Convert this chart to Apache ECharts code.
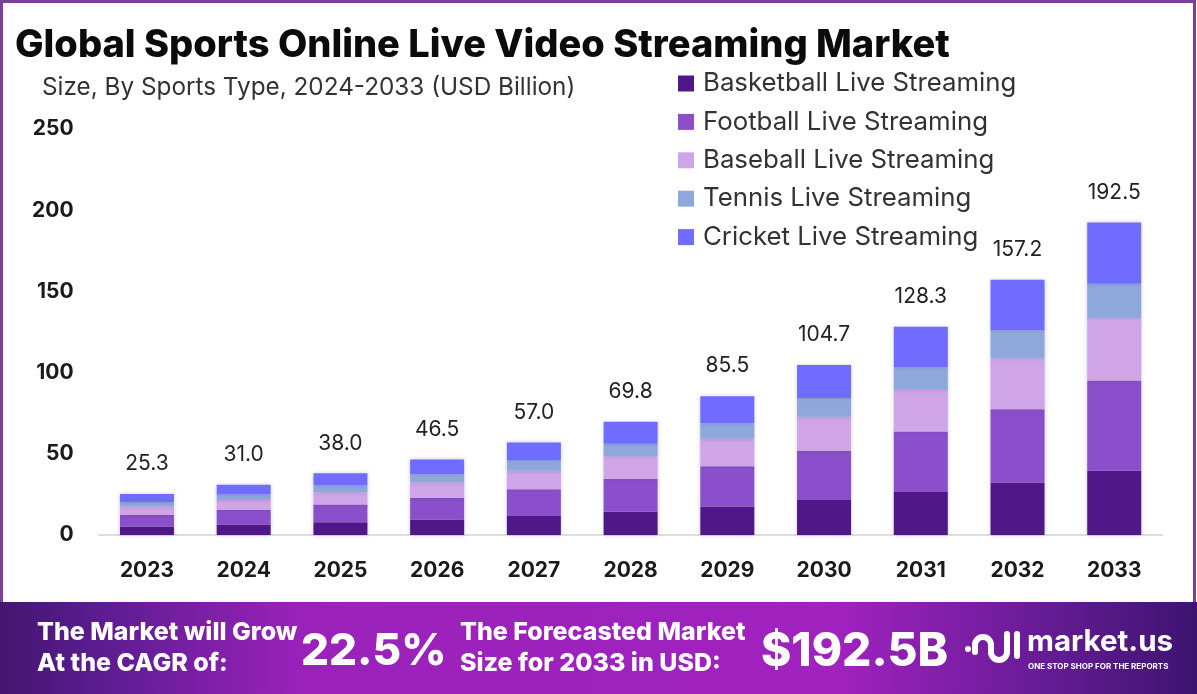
<!DOCTYPE html>
<html lang="en">
  <head>
    <meta charset="utf-8">
    <title>Global Sports Online Live Video Streaming Market</title>
    <style>
      html, body { margin: 0; padding: 0; background: #fff; }
      #chart { width: 1197px; height: 694px; }
    </style>
  </head>
  <body>
    <div id="chart"></div>

    <script src="https://cdn.jsdelivr.net/npm/echarts@6/dist/echarts.min.js"></script>
    <script>
      // data
      var years = ['2023', '2024', '2025', '2026', '2027', '2028', '2029', '2030', '2031', '2032', '2033'];
      var basketball = [5.2, 6.4, 7.8, 9.5, 11.7, 14.3, 17.5, 21.5, 26.5, 32.4, 39.5];
      var football = [7.3, 9.0, 11.0, 13.5, 16.5, 20.2, 24.8, 30.4, 37.2, 45.0, 55.6];
      var baseball = [5.0, 6.2, 7.6, 9.3, 11.4, 14.0, 17.1, 20.9, 25.7, 31.5, 38.4];
      var tennis = [2.8, 3.4, 4.2, 5.1, 6.3, 7.7, 9.4, 11.5, 14.0, 17.2, 21.2];
      var cricket = [5.0, 6.0, 7.4, 9.1, 11.1, 13.6, 16.7, 20.4, 24.9, 31.1, 37.8];
      var totals = [25.3, 31.0, 38.0, 46.5, 57.0, 69.8, 85.5, 104.7, 128.3, 157.2, 192.5];
      var seriesNames = ['Basketball Live Streaming', 'Football Live Streaming', 'Baseball Live Streaming', 'Tennis Live Streaming', 'Cricket Live Streaming'];
      var seriesColors = ['#4f1787', '#8b4fcb', '#d0a5e8', '#8ea8dc', '#6f6cff'];

      var font = 'Inter';
      var myChart = echarts.init(document.getElementById('chart'));

      function barSeries(name, color, values) {
          return {
              name: name,
              type: 'bar',
              stack: 'total',
              barWidth: 54,
              data: values,
              itemStyle: { color: color, shadowColor: 'rgba(70,50,120,0.25)', shadowBlur: 4 }
          };
      }

      // footer text helper
      function footerText(x, y, text, size, weight, shadow) {
          return {
              type: 'text',
              x: x,
              y: y,
              z: 20,
              style: {
                  text: text,
                  fill: '#fff',
                  font: weight + ' ' + size + 'px ' + font,
                  textVerticalAlign: 'middle',
                  shadowColor: shadow ? 'rgba(40,0,70,0.75)' : 'transparent',
                  shadowBlur: shadow ? 5 : 0,
                  shadowOffsetX: shadow ? 2 : 0,
                  shadowOffsetY: shadow ? 2 : 0
              }
          };
      }

      // logo strokes
      var logoStyle = { fill: 'none', stroke: '#fff', lineWidth: 6, lineCap: 'round' };
      function logoArc(cx, cy, r, start, end) {
          return { type: 'arc', z: 20, shape: { cx: cx, cy: cy, r: r, startAngle: start, endAngle: end }, style: logoStyle };
      }
      function logoLine(x1, y1, x2, y2) {
          return { type: 'line', z: 20, shape: { x1: x1, y1: y1, x2: x2, y2: y2 }, style: logoStyle };
      }

      myChart.setOption({
          backgroundColor: '#fff',
          animation: false,
          title: [{
              text: 'Global Sports Online Live Video Streaming Market',
              left: 15,
              top: 27,
              padding: 0,
              textStyle: { fontFamily: font, fontWeight: 800, fontSize: 38, color: '#0b0b0b' }
          }, {
              text: 'Size, By Sports Type, 2024-2033 (USD Billion)',
              left: 42,
              top: 76,
              padding: 0,
              textStyle: { fontFamily: font, fontWeight: 400, fontSize: 24.3, color: '#333' }
          }],
          legend: {
              orient: 'vertical',
              left: 678,
              top: 70,
              padding: 0,
              icon: 'rect',
              itemWidth: 16,
              itemHeight: 16,
              itemGap: 11.4,
              data: seriesNames,
              selectedMode: false,
              textStyle: { fontFamily: font, fontSize: 25.8, color: '#333', lineHeight: 27, padding: [0, 0, 0, 4] }
          },
          grid: { left: 98.6, right: 34.4, top: 129, bottom: 159 },
          xAxis: {
              type: 'category',
              data: years,
              axisTick: { show: false },
              axisLine: { lineStyle: { color: '#d4d4d8', width: 1.5 } },
              axisLabel: { margin: 25, color: '#1a1a1a', fontFamily: font, fontWeight: 700, fontSize: 21 }
          },
          yAxis: {
              type: 'value',
              min: 0,
              max: 250,
              interval: 50,
              splitLine: { show: false },
              axisLine: { show: false },
              axisTick: { show: false },
              axisLabel: { margin: 25, color: '#1a1a1a', fontFamily: font, fontWeight: 700, fontSize: 21, padding: [0, 0, 4, 0] }
          },
          series: [
              barSeries(seriesNames[0], seriesColors[0], basketball),
              barSeries(seriesNames[1], seriesColors[1], football),
              barSeries(seriesNames[2], seriesColors[2], baseball),
              barSeries(seriesNames[3], seriesColors[3], tennis),
              barSeries(seriesNames[4], seriesColors[4], cricket),
              {
                  // only carries the total labels above the stacks
                  name: 'Total',
                  type: 'line',
                  data: totals,
                  symbol: 'circle',
                  symbolSize: 1,
                  showSymbol: true,
                  showAllSymbol: true,
                  itemStyle: { color: 'rgba(0,0,0,0)' },
                  lineStyle: { opacity: 0 },
                  label: {
                      show: true,
                      position: 'top',
                      distance: 19,
                      color: '#222',
                      fontFamily: font,
                      fontSize: 21,
                      formatter: function (p) { return p.value.toFixed(1); }
                  }
              }
          ],
          graphic: [
              {
                  type: 'rect',
                  z: 10,
                  shape: { x: 1.5, y: 1.5, width: 1193, height: 691 },
                  style: { fill: 'transparent', stroke: '#7c3f98', lineWidth: 3 }
              },
              {
                  type: 'rect',
                  z: 11,
                  shape: { x: 0, y: 602, width: 1197, height: 92 },
                  style: {
                      fill: new echarts.graphic.LinearGradient(0, 0, 1, 0, [
                          { offset: 0, color: '#43166f' },
                          { offset: 0.08, color: '#5a1c8f' },
                          { offset: 0.25, color: '#9a22ba' },
                          { offset: 0.7, color: '#a022bf' },
                          { offset: 0.86, color: '#6a1c98' },
                          { offset: 1, color: '#3d1470' }
                      ])
                  }
              },
              footerText(37, 632, 'The Market will Grow', 25, 800, false),
              footerText(37, 663, 'At the CAGR of:', 25, 800, false),
              footerText(301, 652, '22.5%', 44, 800, true),
              footerText(460, 632, 'The Forecasted Market', 25, 800, false),
              footerText(460, 663, 'Size for 2033 in USD:', 25, 800, false),
              footerText(761, 652, '$192.5B', 46, 800, true),
              footerText(1027, 642, 'market.us', 29.5, 700, false),
              footerText(1028, 667, 'ONE STOP SHOP FOR THE REPORTS', 8, 700, false),
              // logo mark
              { type: 'circle', z: 20, shape: { cx: 968, cy: 649, r: 3 }, style: { fill: '#fff' } },
              logoArc(983, 645, 8, Math.PI, 2 * Math.PI),
              logoArc(999, 652, 8, 0, Math.PI),
              logoLine(991, 645, 991, 652),
              logoLine(975, 645, 975, 652),
              logoLine(1007, 634, 1007, 652),
              logoLine(1017, 634, 1017, 656)
          ]
      });
  </script>
  </body>
</html>
